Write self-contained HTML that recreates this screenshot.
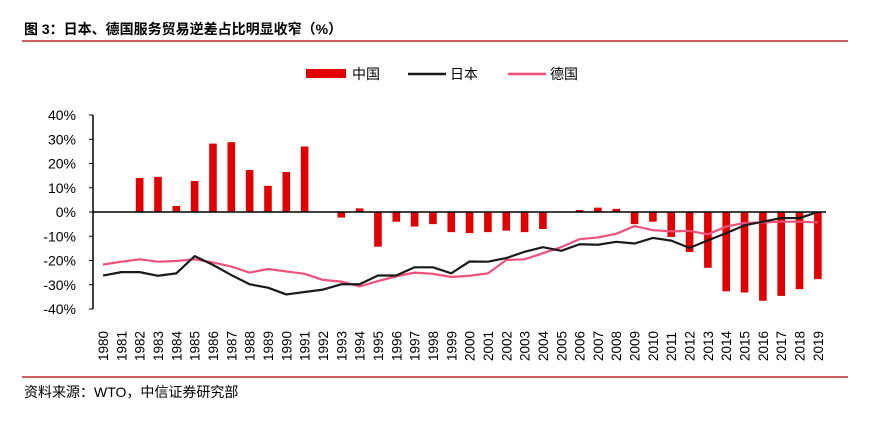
<!DOCTYPE html>
<html><head><meta charset="utf-8"><style>
body{margin:0;background:#fff;width:888px;height:424px;overflow:hidden;font-family:"Liberation Sans","Noto Sans CJK SC",sans-serif}
</style></head><body>
<svg id="c" width="888" height="424" xmlns="http://www.w3.org/2000/svg" style="font-family:'Liberation Sans','Noto Sans CJK SC',sans-serif">
<text x="24" y="34" font-size="14" font-weight="bold" fill="#000">图 3：日本、德国服务贸易逆差占比明显收窄（%）</text>
<line x1="22" y1="41" x2="848" y2="41" stroke="#b00000" stroke-width="1.2"/>
<g font-size="14">
<g><rect x="306" y="69" width="40" height="9" fill="#e00000"/><text x="352" y="79">中国</text></g>
<g><line x1="408" y1="74" x2="446" y2="74" stroke="#1a1a1a" stroke-width="2.5"/><text x="450" y="79">日本</text></g>
<g><line x1="508" y1="74" x2="546" y2="74" stroke="#f0507a" stroke-width="2.5"/><text x="550" y="79">德国</text></g>
</g>
<g id="plot"></g>
<line x1="22" y1="377" x2="848" y2="377" stroke="#b00000" stroke-width="1.2"/>
<text x="24" y="397" font-size="14">资料来源：WTO，中信证券研究部</text>
</svg>
<script>
const years=[];for(let y=1980;y<=2019;y++)years.push(String(y));
const china=[null,null,14,14.5,2.5,12.8,28.2,28.8,17.3,10.8,16.5,27,-0.2,-2.3,1.5,-14.3,-4,-6,-5,-8.3,-8.7,-8.3,-7.7,-8.3,-7,0,0.8,1.8,1.3,-5,-4,-10.3,-16.5,-23,-32.7,-33.2,-36.6,-34.6,-31.8,-27.7];
const japan=[-26.2,-24.8,-24.8,-26.3,-25.3,-18.2,-21.8,-26,-29.8,-31.2,-34,-33,-32,-29.8,-29.8,-26.2,-26.2,-22.8,-22.8,-25.3,-20.4,-20.5,-19,-16.4,-14.5,-16,-13.3,-13.5,-12.3,-13,-10.7,-11.8,-14.8,-11.7,-8.7,-5.5,-4,-2.5,-2.5,0];
const germany=[-21.7,-20.5,-19.5,-20.5,-20.2,-19.5,-20.8,-22.5,-25,-23.5,-24.5,-25.5,-28,-28.7,-30.7,-28.5,-26.5,-25,-25.5,-26.8,-26.3,-25.3,-19.8,-19.5,-17,-14.5,-11.2,-10.5,-9,-5.8,-7.5,-8,-7.8,-9.2,-6,-4.5,-4.3,-4,-4,-4.3];
const yTicks=[40,30,20,10,0,-10,-20,-30,-40];
const NS="http://www.w3.org/2000/svg";
const g=document.getElementById('plot');
const X0=103,STEP=18.33,Y0=212,PER=2.425;
const xs=i=>X0+i*STEP, ys=v=>Y0-v*PER;
function mk(t,a){const e=document.createElementNS(NS,t);for(const k in a)e.setAttribute(k,a[k]);g.appendChild(e);return e;}
let ax=mk('line',{x1:93,y1:ys(40),x2:93,y2:ys(-40),stroke:'#000','stroke-width':1.5});


yTicks.forEach(t=>{
 const tk=mk('line',{x1:89,x2:93,y1:ys(t),y2:ys(t),stroke:'#000'});
 
 
 const tx=mk('text',{x:76,y:ys(t)+5,'text-anchor':'end','font-size':14});
 tx.textContent=t+'%';
 
 
});
china.forEach((v,i)=>{
 if(v===null)return;
 const r=mk('rect',{x:xs(i)-3.8,y:Math.min(ys(v),Y0),width:7.6,height:Math.abs(ys(v)-Y0),fill:'#e00000'});
 
 
});
let za=mk('line',{x1:93,y1:Y0,x2:826,y2:Y0,stroke:'#000','stroke-width':1.5});


function line(data,col,name){
 const p=mk('polyline',{points:data.map((v,i)=>xs(i)+','+ys(v)).join(' '),fill:'none',stroke:col,'stroke-width':2.2,'stroke-linejoin':'round'});
 
 
}
line(germany,'#f0507a','line-germany');
line(japan,'#1a1a1a','line-japan');
years.forEach((y,i)=>{
 const t=mk('text',{transform:`translate(${xs(i)+5},361) rotate(-90)`,'font-size':13.5});
 t.textContent=y;
 
 
});
</script>
</body></html>
